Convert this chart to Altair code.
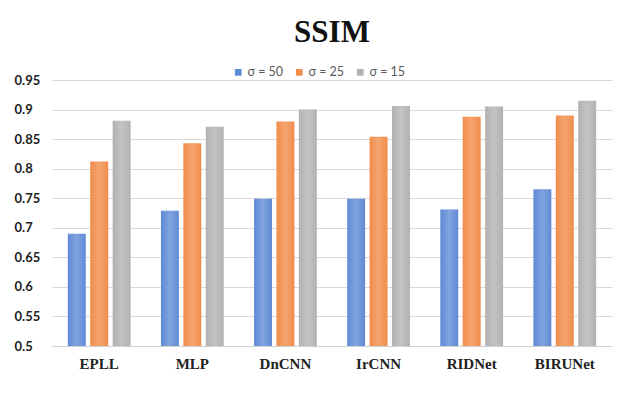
import altair as alt
import pandas as pd

methods = ["EPLL", "MLP", "DnCNN", "IrCNN", "RIDNet", "BIRUNet"]
series = ["σ = 50", "σ = 25", "σ = 15"]
sigma50 = [0.690, 0.729, 0.749, 0.749, 0.731, 0.765]
sigma25 = [0.812, 0.843, 0.880, 0.854, 0.888, 0.890]
sigma15 = [0.881, 0.871, 0.900, 0.906, 0.905, 0.915]
colors = ["#5F8AD6", "#F18C4A", "#B2B2B2"]
y_ticks = [0.5, 0.55, 0.6, 0.65, 0.7, 0.75, 0.8, 0.85, 0.9, 0.95]

rows = []
for vals, s in zip([sigma50, sigma25, sigma15], series):
    for m, v in zip(methods, vals):
        rows.append({"method": m, "sigma": s, "ssim": v})
df = pd.DataFrame(rows)

x_enc = alt.X("method:N", sort=methods,
              scale=alt.Scale(paddingInner=0.326, paddingOuter=0.17),
              axis=alt.Axis(title=None, labelAngle=0, labelFont="Liberation Serif",
                            labelFontWeight="bold", labelFontSize=15, labelColor="#222222",
                            domainColor="#D0D0D0", ticks=False, labelPadding=10))
xo_enc = alt.XOffset("sigma:N", sort=series, scale=alt.Scale(paddingInner=0.2))
y_enc = alt.Y("ssim:Q", scale=alt.Scale(domain=[0.5, 0.95], zero=False, nice=False),
              axis=alt.Axis(title=None, values=y_ticks, format="~g", labelAlign="left",
                            labelPadding=38, ticks=False, domain=False,
                            labelFont="Lato", labelFontWeight="bold", labelFontSize=13,
                            labelColor="#222222", gridColor="#D9D9D9"))

base = alt.Chart(df).mark_bar().encode(
    x=x_enc, xOffset=xo_enc, y=y_enc, y2=alt.datum(0.5),
    color=alt.Color("sigma:N", sort=series,
                    scale=alt.Scale(domain=series, range=colors),
                    legend=alt.Legend(title=None, orient="none", direction="horizontal",
                                      legendX=180, legendY=-14, symbolType="square",
                                      symbolSize=45, labelFont="Lato", labelFontSize=12.5,
                                      labelColor="#595959", columnPadding=9, labelOffset=3,
                                      symbolOpacity=1)),
)

shine = alt.Chart(df).mark_bar(
    fill={"gradient": "linear", "x1": 0, "y1": 0, "x2": 1, "y2": 0,
          "stops": [{"offset": 0, "color": "rgba(255,255,255,0)"},
                    {"offset": 0.5, "color": "rgba(255,255,255,0.22)"},
                    {"offset": 1, "color": "rgba(255,255,255,0)"}]}
).encode(x=x_enc, xOffset=xo_enc, y=y_enc, y2=alt.datum(0.5))

chart = alt.layer(base, shine).properties(
    width=560, height=266,
    title=alt.Title("SSIM", font="Liberation Serif", fontSize=31, fontWeight="bold",
                    color="#111111", anchor="middle", offset=17),
    padding={"left": 52, "top": 80, "right": 20, "bottom": 30},
    autosize=alt.AutoSizeParams(type="none"),
).configure_view(stroke=None)

chart.save("out.html", embed_options={"renderer": "svg", "actions": False})
